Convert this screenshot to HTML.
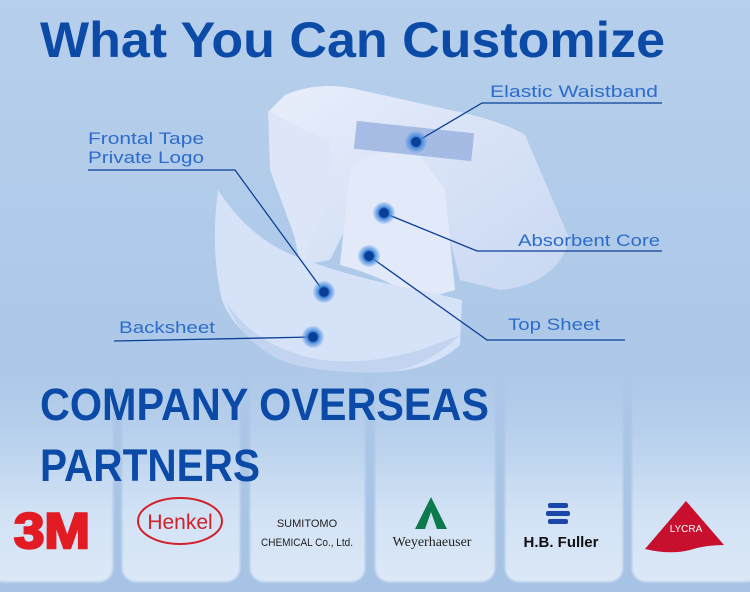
<!DOCTYPE html>
<html><head><meta charset="utf-8"><style>
html,body{margin:0;padding:0;width:750px;height:592px;overflow:hidden;background:#b3cdea}
</style></head><body>
<svg width="750" height="592" viewBox="0 0 750 592" xmlns="http://www.w3.org/2000/svg">
<defs>
<linearGradient id="bg" x1="0" y1="0" x2="0" y2="1">
<stop offset="0" stop-color="#b6cfec"/><stop offset="0.6" stop-color="#adc8e8"/><stop offset="1" stop-color="#a6c2e4"/>
</linearGradient>
<linearGradient id="card" x1="0" y1="0" x2="0" y2="1">
<stop offset="0" stop-color="#b0cbea" stop-opacity="0"/><stop offset="0.45" stop-color="#bed5ef"/><stop offset="0.7" stop-color="#d2e2f5"/><stop offset="1" stop-color="#dbe8f7"/>
</linearGradient>
<radialGradient id="dot"><stop offset="0.4" stop-color="#0a3f96"/><stop offset="0.5" stop-color="#3f86dc"/><stop offset="1" stop-color="#5e9ae4" stop-opacity="0.2"/></radialGradient>
<linearGradient id="dia" x1="0" y1="0" x2="1" y2="1">
<stop offset="0" stop-color="#e8eefb"/><stop offset="1" stop-color="#c8d7f2"/>
</linearGradient>
<filter id="bl"><feGaussianBlur stdDeviation="1"/></filter>
</defs>
<rect width="750" height="592" fill="url(#bg)"/>
<g filter="url(#bl)">
<rect x="-10" y="350" width="123" height="232" rx="14" fill="url(#card)"/>
<rect x="122" y="350" width="118" height="232" rx="14" fill="url(#card)"/>
<rect x="250" y="350" width="115" height="232" rx="14" fill="url(#card)"/>
<rect x="375" y="350" width="120" height="232" rx="14" fill="url(#card)"/>
<rect x="505" y="350" width="118" height="232" rx="14" fill="url(#card)"/>
<rect x="632" y="350" width="128" height="232" rx="14" fill="url(#card)"/>
</g>
<g>
<path d="M270 110 L285 95 Q320 80 360 90 L450 110 Q500 120 525 135 L570 240 Q555 285 500 290 L460 280 L440 200 L400 190 L360 200 L330 260 L300 265 Z" fill="url(#dia)"/>
<path d="M268 110 Q300 130 330 140 L335 190 Q310 230 305 265 L270 170 Z" fill="#dce6f8"/>
<path d="M340 265 L350 170 Q370 145 420 155 L445 190 L455 290 L420 300 Q380 275 340 265 Z" fill="#e2eafa"/>
<path d="M218 190 Q250 240 300 258 Q360 280 420 290 L462 300 L460 345 Q430 372 380 372 Q320 370 280 355 Q235 335 222 300 Q210 250 218 190 Z" fill="#d6e2f7"/>
<path d="M225 300 Q250 340 300 355 Q350 370 420 350 L460 335 Q430 365 390 372 Q320 375 280 360 Q240 340 225 300 Z" fill="#c3d4f1"/>
<rect x="355" y="127" width="118" height="28" fill="#8fa9dc" opacity="0.7" transform="rotate(6 414 141)"/>
</g>
<g stroke="#0a3f96" stroke-width="1.3" fill="none">
<polyline points="416,142 482,103 662,103"/>
<polyline points="88,170 235,170 324,292"/>
<polyline points="384,213 477,251 662,251"/>
<polyline points="369,256 487,340 625,340"/>
<polyline points="114,341 313,337"/>
</g>
<g fill="url(#dot)">
<circle cx="416" cy="142" r="11"/><circle cx="384" cy="213" r="11"/><circle cx="369" cy="256" r="11"/>
<circle cx="324" cy="292" r="11"/><circle cx="313" cy="337" r="11"/>
</g>
<g font-family="Liberation Sans, sans-serif" font-size="17" fill="#2d6cc8">
<text x="490" y="97" textLength="168" lengthAdjust="spacingAndGlyphs">Elastic Waistband</text>
<text x="88" y="144" textLength="116" lengthAdjust="spacingAndGlyphs">Frontal Tape</text>
<text x="88" y="163" textLength="116" lengthAdjust="spacingAndGlyphs">Private Logo</text>
<text x="518" y="246" textLength="142" lengthAdjust="spacingAndGlyphs">Absorbent Core</text>
<text x="508" y="330" textLength="92" lengthAdjust="spacingAndGlyphs">Top Sheet</text>
<text x="119" y="333" textLength="96" lengthAdjust="spacingAndGlyphs">Backsheet</text>
</g>
<g font-family="Liberation Sans, sans-serif" font-weight="bold" fill="#0b4aa6">
<text x="40" y="57" font-size="50" textLength="625" lengthAdjust="spacingAndGlyphs">What You Can Customize</text>
<text x="40" y="420" font-size="45" textLength="449" lengthAdjust="spacingAndGlyphs">COMPANY OVERSEAS</text>
<text x="40" y="481" font-size="45" textLength="220" lengthAdjust="spacingAndGlyphs">PARTNERS</text>
</g>
<g transform="translate(14 548) scale(1 1.25)">
<text x="0" y="0" font-family="Liberation Sans, sans-serif" font-weight="bold" font-size="40" fill="#e31b23" stroke="#e31b23" stroke-width="2" textLength="76" lengthAdjust="spacingAndGlyphs">3M</text>
</g>
<ellipse cx="180" cy="521" rx="42" ry="23" fill="none" stroke="#d1202a" stroke-width="2"/>
<text x="180" y="529" text-anchor="middle" font-family="Liberation Sans, sans-serif" font-size="21" fill="#d1202a">Henkel</text>
<text x="307" y="527" text-anchor="middle" font-family="Liberation Sans, sans-serif" font-size="11" fill="#222">SUMITOMO</text>
<text x="307" y="546" text-anchor="middle" font-family="Liberation Sans, sans-serif" font-size="11" fill="#222" textLength="92" lengthAdjust="spacingAndGlyphs">CHEMICAL Co., Ltd.</text>
<polygon points="431,497 415,529 447,529" fill="#0c7a4c"/>
<polygon points="431,512 425,529 437,529" fill="#cfe0f4"/>
<text x="432" y="546" text-anchor="middle" font-family="Liberation Serif, serif" font-size="14" fill="#222">Weyerhaeuser</text>
<g fill="#1a47a8"><rect x="548" y="503" width="20" height="5" rx="2"/><rect x="546" y="511" width="24" height="5" rx="2"/><rect x="548" y="519" width="20" height="5" rx="2"/></g>
<text x="561" y="547" text-anchor="middle" font-family="Liberation Sans, sans-serif" font-weight="bold" font-size="15" fill="#111">H.B. Fuller</text>
<path d="M686 501 L724 545 Q705 545 690 550 Q670 555 645 549 Z" fill="#c8102e"/>
<text x="686" y="532" text-anchor="middle" font-family="Liberation Sans, sans-serif" font-size="10" fill="#fff">LYCRA</text>
</svg>
</body></html>
